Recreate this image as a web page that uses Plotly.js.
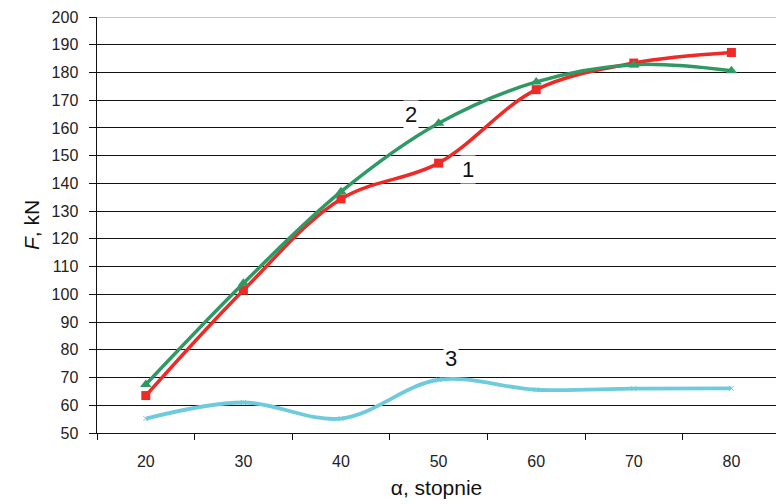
<!DOCTYPE html>
<html>
<head>
<meta charset="utf-8">
<script src="https://cdn.plot.ly/plotly-3.0.1.min.js"></script>
<style>html,body{margin:0;padding:0;background:#fff;}#chart{width:776px;height:504px;}</style>
</head>
<body>
<div id="chart"></div>
<script>
// angles (degrees)
var alpha = [20, 30, 40, 50, 60, 70, 80];
// series 1 (red, squares)
var force1 = [63.5, 101.5, 134.4, 147.3, 173.8, 183.4, 187.2];
// series 2 (green, triangles)
var force2 = [67.5, 104, 137, 161.7, 176.6, 182.8, 180.6];
// series 3 (cyan)
var force3 = [55.2, 61, 55.2, 69.2, 65.6, 66, 66.1];
// axis ticks
var xLabelVals = [20, 30, 40, 50, 60, 70, 80];
var xTickMarks = [15, 25, 35, 45, 55, 65, 75];
var yTickVals = [50, 60, 70, 80, 90, 100, 110, 120, 130, 140, 150, 160, 170, 180, 190, 200];

var FONT = 'Liberation Sans, Arial, sans-serif';
var XR = [15, 84.57];
var YR = [50, 200];

var traces = [
  {x: alpha, y: force3, type: 'scatter', mode: 'lines+markers',
   line: {color: '#6ECBDB', width: 3.8, shape: 'spline'},
   marker: {symbol: 'x-thin', size: 5, line: {color: '#6ECBDB', width: 1}},
   hoverinfo: 'skip', showlegend: false},
  {x: alpha, y: force1, type: 'scatter', mode: 'lines+markers',
   line: {color: '#EE2A26', width: 3.5, shape: 'spline'},
   marker: {symbol: 'square', size: 9, color: '#EE2A26'},
   hoverinfo: 'skip', showlegend: false},
  {x: alpha, y: force2, type: 'scatter', mode: 'lines+markers',
   line: {color: '#2E9963', width: 3.5, shape: 'spline'},
   marker: {symbol: 'triangle-up', size: 10, color: '#2E9963'},
   hoverinfo: 'skip', showlegend: false},
  // invisible trace to activate tick-mark axes
  {x: [XR[0]], y: [YR[0]], xaxis: 'x2', yaxis: 'y2', type: 'scatter', mode: 'markers',
   marker: {opacity: 0}, hoverinfo: 'skip', showlegend: false}
];

var layout = {
  width: 776, height: 504,
  margin: {l: 97, r: 0, t: 17, b: 71},
  paper_bgcolor: '#fff', plot_bgcolor: '#fff',
  font: {family: FONT, color: '#222'},
  xaxis: {
    range: XR, tickvals: xLabelVals, ticktext: xLabelVals.map(String),
    ticks: 'outside', ticklen: 14, tickcolor: 'rgba(0,0,0,0)',
    showgrid: false, zeroline: false,
    showline: true, linecolor: '#111', linewidth: 1,
    tickfont: {size: 16, family: FONT, color: '#222'},
    title: {text: '\u03b1, stopnie', font: {size: 21, family: FONT, color: '#111'}, standoff: 11}
  },
  xaxis2: {
    range: XR, overlaying: 'x', anchor: 'y2', side: 'bottom',
    tickvals: xTickMarks, showticklabels: false,
    ticks: 'outside', ticklen: 6, tickcolor: '#111', tickwidth: 1,
    showgrid: false, zeroline: false, showline: false
  },
  yaxis: {
    range: YR, tickvals: yTickVals, ticktext: yTickVals.map(String),
    ticks: 'outside', ticklen: 14, tickcolor: 'rgba(0,0,0,0)',
    showgrid: true, gridcolor: '#111', gridwidth: 1,
    zeroline: false, showline: true, linecolor: '#111', linewidth: 1.5,
    tickfont: {size: 16, family: FONT, color: '#222'},
    title: {text: '<i>F</i>, kN', font: {size: 21, family: FONT, color: '#111'}, standoff: 6}
  },
  yaxis2: {
    range: YR, overlaying: 'y', anchor: 'x2', side: 'left',
    tickvals: yTickVals, showticklabels: false,
    ticks: 'outside', ticklen: 7, tickcolor: '#111', tickwidth: 1,
    showgrid: false, zeroline: false, showline: false
  },
  shapes: [
    {type: 'line', xref: 'paper', yref: 'y', x0: 0, x1: 1, y0: 200, y1: 200,
     line: {color: '#b5b5b5', width: 1.5}, layer: 'above'}
  ],
  annotations: [
    {x: 53.0, y: 144.9, xref: 'x', yref: 'y', text: '1', showarrow: false,
     font: {size: 22, family: FONT, color: '#111'}, bgcolor: '#fff'},
    {x: 47.2, y: 164.7, xref: 'x', yref: 'y', text: '2', showarrow: false,
     font: {size: 22, family: FONT, color: '#111'}, bgcolor: '#fff'},
    {x: 51.3, y: 77.0, xref: 'x', yref: 'y', text: '3', showarrow: false,
     font: {size: 22, family: FONT, color: '#111'}, bgcolor: '#fff'}
  ]
};

Plotly.newPlot('chart', traces, layout, {staticPlot: true, displayModeBar: false});
</script>
</body>
</html>
